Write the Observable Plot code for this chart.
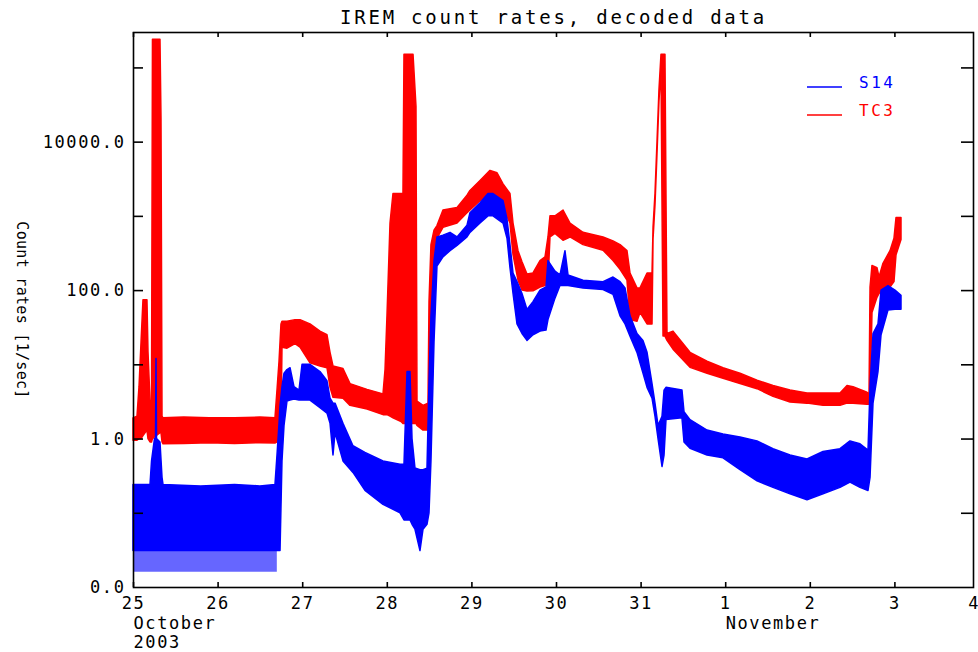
<!DOCTYPE html>
<html>
<head>
<meta charset="utf-8">
<script src="https://cdn.jsdelivr.net/npm/d3@7"></script>
<script src="https://cdn.jsdelivr.net/npm/@observablehq/plot@0.6"></script>
<style>
  html, body { margin: 0; padding: 0; background: #fff; }
  svg { display: block; }
</style>
</head>
<body>
<div id="chart"></div>
<script>
// ---------- data (days after 2003-10-25 00:00 UT; count rates in 1/sec) ----------
const chartTitle = "IREM count rates, decoded data";
const yTitle = "Count rates [1/sec]";

// TC3 envelope (lower / upper edge of the plotted band)
const tc3Days = [0.000,0.047,0.071,0.095,0.118,0.165,0.177,0.201,0.219,0.230,0.319,0.331,0.343,0.355,
  0.600,0.900,1.200,1.500,1.678,1.702,1.726,1.749,1.761,1.820,1.915,1.974,2.092,2.210,2.293,2.329,2.364,
  2.482,2.565,2.766,2.955,2.979,3.002,3.038,3.073,3.168,3.191,3.203,3.310,3.345,3.357,3.428,3.487,3.499,
  3.522,3.558,3.593,3.664,3.830,3.948,3.983,4.102,4.220,4.303,4.374,4.456,4.492,4.551,4.598,4.657,4.728,
  4.811,4.870,4.905,4.929,4.988,5.083,5.165,5.319,5.556,5.674,5.757,5.839,5.875,5.957,5.993,6.076,6.135,
  6.147,6.170,6.194,6.217,6.241,6.265,6.288,6.312,6.383,6.584,6.785,6.974,7.175,7.376,7.565,7.766,7.967,
  8.156,8.357,8.440,8.511,8.676,8.700,8.712,8.735,8.794,8.818,8.865,8.948,8.995,9.019,9.078];
const tc3Low = [0.95,0.95,1.0,1.0,1.1,1.3,1.0,0.9,0.9,1.0,1.2,1.2,0.9,0.85,
  0.86,0.88,0.86,0.88,0.87,0.9,1.0,1.5,17,16.5,19,17,10.5,9.5,9,4.9,3.6,
  3.5,2.8,2.5,2.1,2.1,2.1,2.0,1.9,1.7,1.6,1.6,1.6,1.6,1.5,1.3,1.3,1.5,
  20,300,500,700,800,1100,1200,1600,2000,1800,1300,800,300,136,100,97,98,
  110,115,130,520,580,470,520,410,345,250,190,136,40,38,50,35,35,
  490,1400,7000,35000,100000,24,24,21,16,9.1,7.6,6.5,5.5,4.7,3.7,3.1,3.0,
  2.8,2.8,3.0,3.0,2.9,2.9,3.0,50,80,90,100,110,130,300,480];
const tc3High = [1.9,2.0,5,20,74,74,15,3.2,3.2,240000,240000,20000,2.0,1.9,
  1.95,1.9,1.9,1.95,1.9,4.5,11,35,38,38,40,40,35,28,25,14.5,9.5,
  8.8,5.5,4.6,4.0,8.5,45,800,2000,2000,2000,150000,150000,30000,3.2,2.8,3.0,70,
  410,640,740,1200,1300,1900,2200,3000,4100,3800,2700,2000,800,340,240,165,170,
  250,280,520,1000,1000,1200,800,600,520,460,410,340,170,107,107,170,170,
  700,2000,10000,50000,150000,150000,150000,26,28,14.5,11,9,7.6,6.1,5.2,4.5,4.1,
  4.1,4.1,5.2,5.0,4.2,4.0,110,215,200,150,230,340,500,950,950];

// S14 envelope
const s14Days = [0.000,0.201,0.219,0.254,0.266,0.272,0.278,0.319,0.343,0.355,0.800,1.200,1.500,1.678,
  1.702,1.726,1.738,1.761,1.785,1.820,1.856,1.903,1.962,1.998,2.092,2.210,2.293,2.329,2.364,2.388,2.482,
  2.600,2.742,2.955,3.156,3.203,3.239,3.274,3.298,3.333,3.392,3.428,3.475,3.499,3.522,3.558,3.593,3.664,
  3.747,3.830,3.948,3.983,4.102,4.196,4.255,4.374,4.421,4.456,4.492,4.539,4.598,4.657,4.728,4.811,4.882,
  4.905,4.988,5.047,5.106,5.142,5.319,5.556,5.674,5.757,5.816,5.875,5.957,6.028,6.076,6.135,6.170,6.206,
  6.253,6.277,6.300,6.489,6.513,6.584,6.785,6.974,7.175,7.376,7.565,7.766,7.967,8.156,8.357,8.475,8.593,
  8.688,8.712,8.747,8.806,8.842,8.924,9.007,9.078];
const s14Low = [0.031,0.031,0.031,0.031,0.031,0.031,0.031,0.031,0.031,0.031,0.031,0.031,0.031,0.031,
  0.031,0.031,0.031,0.5,1.5,3.2,3.3,3.4,3.3,3.3,3.3,2.6,2.2,1.6,0.6,1.2,0.5,
  0.35,0.2,0.13,0.1,0.08,0.08,0.08,0.07,0.06,0.031,0.06,0.07,0.1,0.5,20,210,280,
  340,400,520,600,800,1000,1000,800,500,200,90,35,26,21,25,28,29,
  40,78,115,115,115,107,102,88,45,35,24,14.5,7.6,4.9,3.5,2.0,1.0,
  0.42,0.6,1.8,1.9,0.9,0.74,0.6,0.55,0.38,0.27,0.22,0.18,0.15,0.18,0.22,0.26,0.22,
  0.2,0.3,3,8,25,54,55,55];
const s14High = [0.24,0.24,0.5,1.0,1.0,12,1.0,0.9,0.3,0.24,0.23,0.24,0.23,0.24,
  0.6,1.6,2.8,5,7.6,8.5,9,5,4.5,10,10,8,6,3.5,3.0,3.0,1.6,
  0.8,0.65,0.5,0.45,0.45,8,8,1.0,0.4,0.38,0.38,0.4,6,45,250,520,550,
  600,520,750,1100,1500,2000,2000,1600,900,410,170,130,90,55,70,100,110,
  250,180,160,340,160,136,130,150,130,107,45,26,21,14.5,5.5,3.0,1.5,
  2.0,4.5,4.9,4.5,2.3,1.8,1.3,1.15,1.05,0.93,0.73,0.6,0.53,0.67,0.73,0.93,0.85,
  0.7,5,26,35,100,115,100,85];

// S14 single-count drop-outs below the quiet band (25.0 - 26.7 Oct)
const s14DropDays = [0.000, 1.700];
const s14DropLow = [0.016, 0.016];
const s14DropHigh = [0.031, 0.031];

// axes
const dayTicks = [0,1,2,3,4,5,6,7,8,9,10];
const dayTickLabels = ["25","26","27","28","29","30","31","1","2","3","4"];
const monthDays = [0, 7];
const monthNames = ["October", "November"];
const yearDays = [0];
const yearNames = ["2003"];
const yDecades = [100000,10000,1000,100,10,1,0.1];
const yLabelValues = [10000, 100, 1, 0.01];
const yLabelTexts = ["10000.0", "100.0", "1.0", "0.0"];
const legendNames = ["S14", "TC3"];
const legendColors = ["#0000ff", "#ff0000"];

// ---------- build ----------
const t0 = Date.UTC(2003, 9, 25);
const toDate = d => new Date(t0 + d * 864e5);
const tc3 = tc3Days.map((d, i) => ({t: toDate(d), lo: tc3Low[i], hi: tc3High[i]}));
const s14 = s14Days.map((d, i) => ({t: toDate(d), lo: s14Low[i], hi: s14High[i]}));
const s14Drop = s14DropDays.map((d, i) => ({t: toDate(d), lo: s14DropLow[i], hi: s14DropHigh[i]}));
const xTicks = dayTicks.map(toDate);
const lastTick = xTicks.length - 1;

const font = "DejaVu Sans Mono";
const svg = Plot.plot({
  width: 978, height: 652,
  marginLeft: 133, marginRight: 5, marginTop: 32, marginBottom: 65,
  style: {background: "white", fontFamily: font, color: "black"},
  x: {type: "utc", domain: [toDate(0), toDate(10)], range: [133, 979], axis: null},
  y: {type: "log", domain: [0.01, 3e5], axis: null},
  marks: [
    Plot.areaY(s14Drop, {x: "t", y1: "lo", y2: "hi", fill: "#0000ff", fillOpacity: 0.6}),
    Plot.areaY(tc3, {x: "t", y1: "lo", y2: "hi", fill: "#ff0000", stroke: "#ff0000", strokeWidth: 1.5}),
    Plot.areaY(s14, {x: "t", y1: "lo", y2: "hi", fill: "#0000ff", stroke: "#0000ff", strokeWidth: 1.5}),
    Plot.frame({stroke: "black", strokeWidth: 1.6}),
    // inward ticks
    Plot.ruleX(xTicks, {x: d => d, insetTop: 550, stroke: "black", strokeWidth: 1.6}),
    Plot.ruleX(xTicks, {x: d => d, insetBottom: 550, stroke: "black", strokeWidth: 1.6}),
    Plot.ruleY(yDecades, {y: d => d, insetRight: 830, stroke: "black", strokeWidth: 1.6}),
    Plot.ruleY(yDecades, {y: d => d, insetLeft: 828, stroke: "black", strokeWidth: 1.6}),
    // tick labels
    Plot.text(xTicks.slice(0, lastTick), {x: d => d, text: (d, i) => dayTickLabels[i], frameAnchor: "bottom",
      dy: 16, lineAnchor: "middle", textAnchor: "middle", fontSize: 17, fill: "black"}),
    Plot.text(xTicks.slice(lastTick), {x: d => d, text: () => dayTickLabels[lastTick], frameAnchor: "bottom",
      dy: 16, dx: -1, lineAnchor: "middle", textAnchor: "end", fontSize: 17, fill: "black"}),
    Plot.text(monthDays, {x: d => toDate(d), text: (d, i) => monthNames[i], frameAnchor: "bottom", dy: 36,
      lineAnchor: "middle", textAnchor: "start", fontSize: 17, fill: "black"}),
    Plot.text(yearDays, {x: d => toDate(d), text: (d, i) => yearNames[i], frameAnchor: "bottom", dy: 55,
      lineAnchor: "middle", textAnchor: "start", fontSize: 17, fill: "black"}),
    Plot.text(yLabelValues, {y: d => d, text: (d, i) => yLabelTexts[i], frameAnchor: "left", dx: -8,
      lineAnchor: "middle", textAnchor: "end", fontSize: 17, fill: "black"}),
    Plot.text([yTitle], {frameAnchor: "left", dx: -112, rotate: 90, lineAnchor: "middle", textAnchor: "middle",
      fontSize: 15, fill: "black"}),
    Plot.text([chartTitle], {frameAnchor: "top", dy: -15, lineAnchor: "middle", textAnchor: "middle",
      fontSize: 19, fill: "black"})
  ]
});

const s = d3.select(svg);
const legend = s.append("g").attr("font-family", font).attr("font-size", 16)
  .attr("text-anchor", "start").style("letter-spacing", "2.5px");
legendNames.forEach((name, i) => {
  const yy = 87 + i * 28;
  legend.append("line").attr("x1", 807).attr("x2", 842).attr("y1", yy).attr("y2", yy)
    .attr("stroke", legendColors[i]).attr("stroke-width", 1.6);
  legend.append("text").attr("x", 859).attr("y", yy - 5).attr("dy", "0.35em")
    .attr("fill", legendColors[i]).text(name);
});

document.getElementById("chart").appendChild(svg);

// letter spacing of the vector-font look, by text size
s.selectAll("text").each(function () {
  const fs = parseFloat(getComputedStyle(this).fontSize);
  if (this.textContent === dayTickLabels[lastTick]) { this.style.letterSpacing = "0px"; return; }
  if (fs >= 19) this.style.letterSpacing = "2.8px";
  else if (fs === 17) this.style.letterSpacing = "1.6px";
  else if (fs === 15) this.style.letterSpacing = "0.3px";
});
</script>
</body>
</html>
